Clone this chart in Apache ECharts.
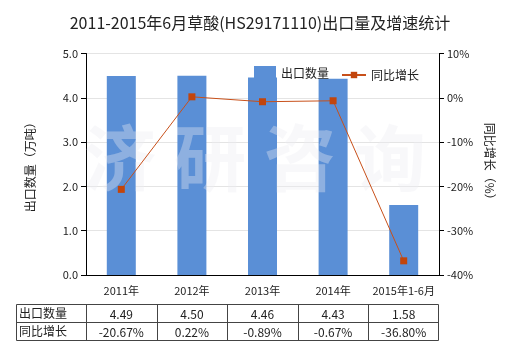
<!DOCTYPE html>
<html><head><meta charset="utf-8">
<script src="https://cdn.jsdelivr.net/npm/echarts@6/dist/echarts.min.js"></script>
<style>html,body{margin:0;padding:0;background:#fff}#c{width:520px;height:350px}</style>
</head><body><div id="c"></div>
<script>
var titleText = '2011-2015年6月草酸(HS29171110)出口量及增速统计';
var categories = ['2011年','2012年','2013年','2014年','2015年1-6月'];
var exportQty = [4.49, 4.50, 4.46, 4.43, 1.58];
var growth = [-20.67, 0.22, -0.89, -0.67, -36.80];
var qtyLabels = ['4.49','4.50','4.46','4.43','1.58'];
var growthLabels = ['-20.67%','0.22%','-0.89%','-0.67%','-36.80%'];
var seriesNames = ['出口数量','同比增长'];
var leftAxisName = '出口数量（万吨）';
var rightAxisName = '同比增长（%）';
var watermark = ['济','研','咨','询'];

(function(){
var FONT = '"Noto Sans CJK SC", "Microsoft YaHei", sans-serif';
var GL = 86, GR = 439, GT = 53.5, GB = 275;
var chart = echarts.init(document.getElementById('c'));

var option = {
  animation: false,
  textStyle: {fontFamily: FONT},
  title: {text: titleText, left: 'center', top: 10,
    textStyle: {fontSize: 16, fontWeight: 'normal', color: '#222', fontFamily: FONT}},
  legend: [
    {left: 254, top: 66, padding: 0, itemWidth: 22, itemHeight: 14,
     textStyle: {fontSize: 12, color: '#222', fontFamily: FONT},
     data: [{name: seriesNames[0], icon: 'rect'}]},
    {left: 341, top: 69, padding: 0, itemWidth: 24, itemHeight: 8, itemGap: 4,
     textStyle: {fontSize: 12, color: '#222', fontFamily: FONT},
     data: [{name: seriesNames[1]}]}
  ],
  grid: {left: GL, right: 520 - GR, top: GT, bottom: 350 - GB, containLabel: false},
  xAxis: {type: 'category', data: categories,
    axisLine: {lineStyle: {color: '#000'}},
    axisTick: {alignWithLabel: true, lineStyle: {color: '#000'}},
    axisLabel: {color: '#222', fontSize: 11, margin: 10, interval: 0}},
  yAxis: [
    {type: 'value', min: 0, max: 5, interval: 1, name: leftAxisName,
     nameLocation: 'middle', nameRotate: 90, nameGap: 50,
     nameTextStyle: {fontSize: 12, color: '#222'},
     axisLine: {show: true, lineStyle: {color: '#000'}},
     axisTick: {show: true, lineStyle: {color: '#000'}},
     axisLabel: {color: '#222', fontSize: 11, formatter: function(v){return v.toFixed(1);}},
     splitLine: {lineStyle: {color: '#e4e4e4'}}},
    {type: 'value', min: -40, max: 10, interval: 10, name: rightAxisName,
     nameLocation: 'middle', nameRotate: -90, nameGap: 44,
     nameTextStyle: {fontSize: 12, color: '#222'},
     axisLine: {show: true, lineStyle: {color: '#000'}},
     axisTick: {show: true, lineStyle: {color: '#000'}},
     axisLabel: {color: '#222', fontSize: 11, formatter: '{value}%'},
     splitLine: {show: false}}
  ],
  series: [
    {name: seriesNames[0], type: 'bar', data: exportQty, barWidth: 29,
     itemStyle: {color: '#5a8fd6'}, z: 2},
    {name: seriesNames[1], type: 'line', yAxisIndex: 1, data: growth,
     symbol: 'rect', symbolSize: 7, lineStyle: {color: '#c8501a', width: 1},
     itemStyle: {color: '#c2450c'}, z: 10}
  ]
};
chart.setOption(option);

var g = [];
var wmX = [120, 210, 300, 390];
for (var w = 0; w < watermark.length; w++) {
  g.push({type: 'text', z: 5, x: wmX[w], y: 158, style: {text: watermark[w], font: 'bold 72px ' + FONT,
    fill: 'rgba(235,235,242,0.36)', textAlign: 'center', textVerticalAlign: 'middle'}});
}
var tTop = 304, tMid = 322, tBot = 340, tl = 16;
var cw = (GR - GL) / categories.length;
var lc = '#444';
g.push({type: 'rect', z: 20, shape: {x: tl + 0.5, y: tTop + 0.5, width: GR - tl - 1, height: tBot - tTop},
  style: {fill: 'none', stroke: lc, lineWidth: 1}});
g.push({type: 'line', z: 20, shape: {x1: tl, y1: tMid + 0.5, x2: GR, y2: tMid + 0.5}, style: {stroke: lc, lineWidth: 1}});
for (var i = 0; i < categories.length; i++) {
  var cx = chart.convertToPixel({xAxisIndex: 0}, categories[i]);
  if (typeof cx !== 'number' || isNaN(cx)) cx = GL + cw * (i + 0.5);
  var xl = Math.round(cx - cw / 2) + 0.5;
  g.push({type: 'line', z: 20, shape: {x1: xl, y1: tTop, x2: xl, y2: tBot}, style: {stroke: lc, lineWidth: 1}});
  g.push({type: 'text', z: 20, x: cx, y: (tTop + tMid) / 2 + 1, style: {text: qtyLabels[i], font: '12px ' + FONT, fill: '#222', textAlign: 'center', textVerticalAlign: 'middle'}});
  g.push({type: 'text', z: 20, x: cx, y: (tMid + tBot) / 2 + 1, style: {text: growthLabels[i], font: '12px ' + FONT, fill: '#222', textAlign: 'center', textVerticalAlign: 'middle'}});
}
g.push({type: 'text', z: 20, x: tl + 3, y: (tTop + tMid) / 2, style: {text: seriesNames[0], font: '12px ' + FONT, fill: '#222', textAlign: 'left', textVerticalAlign: 'middle'}});
g.push({type: 'text', z: 20, x: tl + 3, y: (tMid + tBot) / 2, style: {text: seriesNames[1], font: '12px ' + FONT, fill: '#222', textAlign: 'left', textVerticalAlign: 'middle'}});
chart.setOption({graphic: {elements: g}});
})();
</script></body></html>
